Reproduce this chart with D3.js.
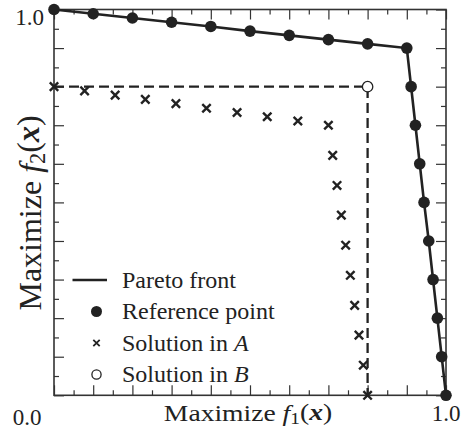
<!DOCTYPE html>
<html>
  <head>
    <meta charset="utf-8">
    <script src="https://d3js.org/d3.v7.min.js"></script>
    <style>
      body { margin: 0; background: #fff; }
      text { font-family: 'Liberation Serif', 'DejaVu Serif', serif; fill: #222; }
    </style>
  </head>
  <body>
    <svg></svg>

    <script type="text/javascript">
      // Pareto front (reference points)
      const paretoF1 = [0, 0.1, 0.2, 0.3, 0.4, 0.5, 0.6, 0.7, 0.8, 0.9,
                        0.911, 0.922, 0.933, 0.944, 0.956, 0.967, 0.978, 0.989, 1.0]
      const paretoF2 = [1.0, 0.989, 0.978, 0.967, 0.956, 0.944, 0.933, 0.922, 0.911, 0.9,
                        0.8, 0.7, 0.6, 0.5, 0.4, 0.3, 0.2, 0.1, 0.0]

      // solutions in A
      const solAF1 = [0, 0.078, 0.156, 0.233, 0.311, 0.389, 0.467, 0.544, 0.622, 0.7,
                      0.711, 0.722, 0.733, 0.744, 0.756, 0.767, 0.778, 0.789, 0.8]
      const solAF2 = [0.8, 0.789, 0.778, 0.767, 0.756, 0.744, 0.733, 0.722, 0.711, 0.7,
                      0.622, 0.544, 0.467, 0.389, 0.311, 0.233, 0.156, 0.078, 0.0]

      // solution in B
      const solBF1 = [0.8]
      const solBF2 = [0.8]

      const legendLabels = ['Pareto front', 'Reference point', 'Solution in ', 'Solution in ']
      const legendItalic = ['', '', 'A', 'B']

      const width = 468
      const height = 432
      const margin = {top: 9.5, right: 22, bottom: 36.7, left: 54}
      const innerW = width - margin.left - margin.right
      const innerH = height - margin.top - margin.bottom
      const ink = '#222'

      const svg = d3.select('svg')
        .attr('width', width)
        .attr('height', height)

      const g = svg.append('g')
        .attr('transform', `translate(${margin.left},${margin.top})`)

      const x = d3.scaleLinear().domain([0, 1]).range([0, innerW])
      const y = d3.scaleLinear().domain([0, 1]).range([innerH, 0])

      const pareto = paretoF1.map((d, i) => ({f1: d, f2: paretoF2[i]}))
      const solA = solAF1.map((d, i) => ({f1: d, f2: solAF2[i]}))
      const solB = solBF1.map((d, i) => ({f1: d, f2: solBF2[i]}))

      const majorTicks = d3.range(0, 11).map(i => i / 10)
      const minorTicks = d3.range(0, 10).map(i => i / 10 + 0.05)

      // ticks on all four sides, pointing inward
      const addAxis = (axisFn, scale, ticks, len, transform) => {
        const a = g.append('g')
          .attr('transform', transform)
          .call(axisFn(scale).tickValues(ticks).tickSize(-len).tickFormat(''))
        a.select('.domain').remove()
        a.selectAll('line').attr('stroke', '#333').attr('stroke-width', 1.2)
      }
      ;[[majorTicks, 10], [minorTicks, 5]].forEach(([t, len]) => {
        addAxis(d3.axisBottom, x, t, len, `translate(0,${innerH})`)
        addAxis(d3.axisTop, x, t, len, 'translate(0,0)')
        addAxis(d3.axisLeft, y, t, len, 'translate(0,0)')
        addAxis(d3.axisRight, y, t, len, `translate(${innerW},0)`)
      })

      g.append('rect')
        .attr('width', innerW)
        .attr('height', innerH)
        .attr('fill', 'none')
        .attr('stroke', '#333')
        .attr('stroke-width', 1.6)

      // dashed box from solution in B to the axes
      g.selectAll('.dash')
        .data(solB)
        .enter()
        .append('path')
          .attr('class', 'dash')
          .attr('d', d => `M${x(0)},${y(d.f2)}H${x(d.f1)}V${y(0)}`)
          .attr('fill', 'none')
          .attr('stroke', ink)
          .attr('stroke-width', 2.3)
          .attr('stroke-dasharray', '10,5')

      const line = d3.line().x(d => x(d.f1)).y(d => y(d.f2))

      g.append('path')
        .datum(pareto)
        .attr('d', line)
        .attr('fill', 'none')
        .attr('stroke', ink)
        .attr('stroke-width', 2.6)

      g.selectAll('.ref')
        .data(pareto)
        .enter()
        .append('circle')
          .attr('class', 'ref')
          .attr('cx', d => x(d.f1))
          .attr('cy', d => y(d.f2))
          .attr('r', 5.8)
          .attr('fill', ink)

      const cross = s => `M${-s},${-s}L${s},${s}M${-s},${s}L${s},${-s}`

      g.selectAll('.solA')
        .data(solA)
        .enter()
        .append('path')
          .attr('class', 'solA')
          .attr('transform', d => `translate(${x(d.f1)},${y(d.f2)})`)
          .attr('d', cross(4.2))
          .attr('stroke', ink)
          .attr('stroke-width', 2.4)

      g.selectAll('.solB')
        .data(solB)
        .enter()
        .append('circle')
          .attr('class', 'solB')
          .attr('cx', d => x(d.f1))
          .attr('cy', d => y(d.f2))
          .attr('r', 5.2)
          .attr('fill', '#fff')
          .attr('stroke', ink)
          .attr('stroke-width', 1.3)

      // tick labels
      svg.append('text').attr('x', 44).attr('y', 25).attr('text-anchor', 'end')
        .style('font-size', '23px').text('1.0')
      svg.append('text').attr('x', 27).attr('y', 425).attr('text-anchor', 'middle')
        .style('font-size', '23px').text('0.0')
      svg.append('text').attr('x', 446).attr('y', 421).attr('text-anchor', 'middle')
        .style('font-size', '23px').text('1.0')

      // axis titles
      const title = (sel, sub) => {
        sel.append('tspan').text('Maximize ')
        sel.append('tspan').style('font-style', 'italic').text('f')
        sel.append('tspan').attr('dy', '0.2em').style('font-size', '0.7em').text(sub)
        sel.append('tspan').attr('dy', '-0.2em').text('(')
        sel.append('tspan').style('font-style', 'italic').style('font-weight', 'bold').text('x')
        sel.append('tspan').text(')')
      }
      svg.append('text')
        .attr('transform', 'translate(248,421) scale(1.15,1)')
        .attr('text-anchor', 'middle')
        .style('font-size', '24px')
        .call(title, '1')
      svg.append('text')
        .attr('transform', 'translate(41,213) rotate(-90)')
        .attr('text-anchor', 'middle')
        .style('font-size', '32px')
        .call(title, '2')

      // legend
      const leg = svg.append('g').attr('transform', 'translate(0,280)')
      const rows = leg.selectAll('g')
        .data(legendLabels)
        .enter()
        .append('g')
          .attr('transform', (d, i) => `translate(0,${i * 31.5})`)
      rows.append('text')
        .attr('x', 122)
        .attr('y', 7.5)
        .style('font-size', '24px')
        .text(d => d)
        .append('tspan')
          .style('font-style', 'italic')
          .text((d, i) => legendItalic[i])

      leg.append('line')
        .attr('x1', 72.5).attr('x2', 107).attr('y1', 0).attr('y2', 0)
        .attr('stroke', ink).attr('stroke-width', 2.6)
      leg.append('circle')
        .attr('cx', 96.5).attr('cy', 31.5).attr('r', 5.5).attr('fill', ink)
      leg.append('path')
        .attr('transform', 'translate(96.5,63)')
        .attr('d', cross(3.2))
        .attr('stroke', ink).attr('stroke-width', 1.8)
      leg.append('circle')
        .attr('cx', 96.5).attr('cy', 94.5).attr('r', 4.6)
        .attr('fill', '#fff').attr('stroke', ink).attr('stroke-width', 1.3)
    </script>
  </body>
</html>
